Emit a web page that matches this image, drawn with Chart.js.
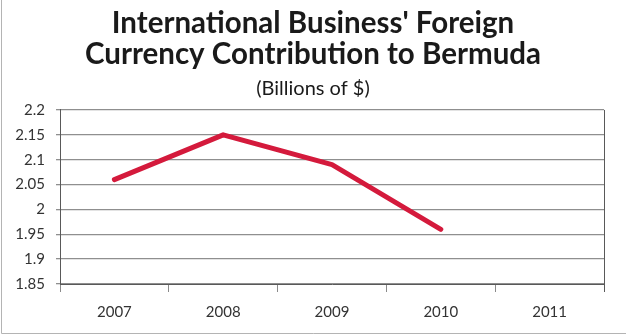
<!DOCTYPE html>
<html>
<head>
<meta charset="utf-8">
<script src="https://cdn.jsdelivr.net/npm/chart.js@4.4.1/dist/chart.umd.min.js"></script>
<style>
  html, body { margin: 0; padding: 0; background: #fff; }
  #wrap { width: 626px; height: 336px; position: relative; }
</style>
</head>
<body>
<div id="wrap"><canvas id="mychart"></canvas></div>
<script>
const years = ['2007', '2008', '2009', '2010', '2011'];
const contribution = [2.06, 2.15, 2.09, 1.96, null];
const yMin = 1.85, yMax = 2.2, yStep = 0.05;

const titleLines = ["International Business' Foreign", 'Currency Contribution to Bermuda'];
const subTitle = '(Billions of $)';

// right edge of the plot plus the thin frame round the whole chart
const framePlugin = {
    id: 'frame',
    afterDraw(chart) {
        const ctx = chart.ctx, a = chart.chartArea;
        ctx.save();
        ctx.strokeStyle = '#595959';
        ctx.lineWidth = 1;
        ctx.beginPath();
        ctx.moveTo(Math.round(a.right) + 0.5, a.top);
        ctx.lineTo(Math.round(a.right) + 0.5, a.bottom + 8);
        ctx.stroke();
        ctx.strokeStyle = '#b4b4b4';
        ctx.beginPath();
        ctx.moveTo(1.5, 0);
        ctx.lineTo(1.5, chart.height - 2.5);
        ctx.lineTo(chart.width, chart.height - 2.5);
        ctx.stroke();
        ctx.restore();
    }
};

const addGraph = function() {
    const ctx = document.getElementById('mychart').getContext('2d');
    new Chart(ctx, {
        type: 'line',
        data: {
            labels: years,
            datasets: [{
                data: contribution,
                borderColor: '#d41a3c',
                borderWidth: 5,
                borderCapStyle: 'round',
                borderJoinStyle: 'round',
                pointRadius: 0,
                tension: 0
            }]
        },
        options: {
            responsive: true,
            maintainAspectRatio: false,
            animation: false,
            layout: { padding: 0 },
            plugins: {
                legend: { display: false },
                tooltip: { enabled: false },
                title: {
                    display: true,
                    text: titleLines,
                    color: '#1a1a1a',
                    font: { family: 'Lato', size: 29.5, weight: 'bold', lineHeight: 1.05 },
                    padding: { top: 8, bottom: 0 }
                },
                subtitle: {
                    display: true,
                    text: subTitle,
                    color: '#1a1a1a',
                    font: { family: 'Lato', size: 20, weight: 'normal', lineHeight: 1.2 },
                    padding: { top: 7, bottom: 9 }
                }
            },
            scales: {
                x: {
                    offset: true,
                    grid: {
                        offset: true,
                        drawOnChartArea: false,
                        tickColor: '#8a8a8a',
                        tickLength: 8
                    },
                    border: { color: '#595959', width: 1 },
                    ticks: {
                        color: '#333',
                        font: { family: 'Lato', size: 15 },
                        padding: 11,
                        maxRotation: 0
                    },
                    afterFit(scale) { scale.height = 52; }
                },
                y: {
                    min: yMin,
                    max: yMax,
                    grid: {
                        color: '#8f8f8f',
                        lineWidth: 1.3,
                        tickLength: 4,
                        tickColor: '#8f8f8f'
                    },
                    border: { color: '#595959', width: 1 },
                    ticks: {
                        stepSize: yStep,
                        color: '#333',
                        font: { family: 'Lato', size: 15 },
                        padding: 11,
                        callback: v => +v.toFixed(2)
                    },
                    afterFit(scale) { scale.width = 60; }
                },
                // empty strip on the right so the plot stops short of the edge
                yRight: {
                    position: 'right',
                    grid: { display: false },
                    border: { display: false },
                    ticks: { display: false },
                    afterFit(scale) { scale.width = 22; }
                }
            }
        },
        plugins: [framePlugin]
    });
};

addGraph();
</script>
</body>
</html>
